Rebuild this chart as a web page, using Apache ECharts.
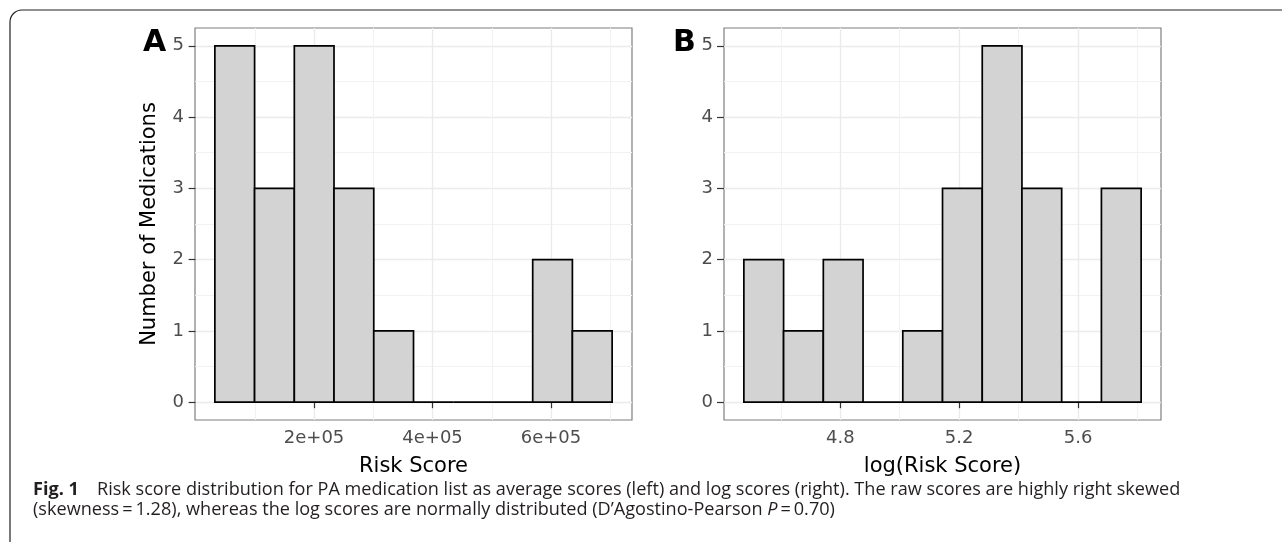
<!DOCTYPE html>
<html><head><meta charset="utf-8">
<script src="https://cdn.jsdelivr.net/npm/echarts@6/dist/echarts.min.js"></script>
<style>html,body{margin:0;padding:0;background:#fff}#c{width:1282px;height:542px}</style>
</head><body><div id="c"></div>
<script>
// ---- data ----
const binEdgesA = [32550, 99600, 166700, 233700, 300800, 367900, 434900, 502000, 569100, 636100, 703200];
const countsA = [5, 3, 5, 3, 1, 0, 0, 0, 2, 1];
const binEdgesB = [4.4755, 4.6092, 4.7429, 4.8766, 5.0103, 5.1440, 5.2777, 5.4113, 5.5450, 5.6787, 5.8124];
const countsB = [2, 1, 2, 0, 1, 3, 5, 3, 0, 3];
const xTicksA = [200000, 400000, 600000];
const xTickLabelsA = ['2e+05', '4e+05', '6e+05'];
const xMinorA = [100000, 300000, 500000, 700000];
const xTicksB = [4.8, 5.2, 5.6];
const xTickLabelsB = ['4.8', '5.2', '5.6'];
const xMinorB = [4.6, 5.0, 5.4, 5.8];
const yTicks = [0, 1, 2, 3, 4, 5];
const yMinor = [0.5, 1.5, 2.5, 3.5, 4.5];
const xTitleA = 'Risk Score';
const xTitleB = 'log(Risk Score)';
const yTitle = 'Number of Medications';
const panelLabels = ['A', 'B'];
const captionBold = 'Fig. 1';
const captionLine1 = 'Risk score distribution for PA medication list as average scores (left) and log scores (right). The raw scores are highly right skewed';
const captionLine2a = '(skewness\u2009=\u20091.28), whereas the log scores are normally distributed (D\u2019Agostino-Pearson ';
const captionItalic = 'P';
const captionLine2b = '\u2009=\u20090.70)';

// ---- helpers ----
function binsData(edges, counts) {
  return counts.map((c, i) => [edges[i], edges[i + 1], c]);
}
function expand(edges) {
  const r = edges[edges.length - 1] - edges[0];
  return [edges[0] - 0.05 * r, edges[edges.length - 1] + 0.05 * r];
}
const yMax = Math.max(...countsA, ...countsB);
const yRange = [-0.05 * yMax, yMax * 1.05];
const FONT = '"DejaVu Sans", sans-serif';
const TICK_SIZE = 18, TITLE_SIZE = 21;

function histItem(params, api) {
  const p0 = api.coord([api.value(0), api.value(2)]);
  const p1 = api.coord([api.value(1), 0]);
  return {
    type: 'rect',
    shape: { x: p0[0], y: p0[1], width: p1[0] - p0[0], height: p1[1] - p0[1] },
    style: { fill: '#d3d3d3', stroke: '#000', lineWidth: 1.7 }
  };
}

function majorX(grid, range, ticks, labels, title) {
  return {
    type: 'value', gridIndex: grid, min: range[0], max: range[1], position: 'bottom',
    axisLine: { show: false },
    axisTick: { show: true, length: 6, customValues: ticks, lineStyle: { color: '#333', width: 1.2 } },
    axisLabel: { customValues: ticks, formatter: v => labels[ticks.indexOf(+v)] ?? '', fontSize: TICK_SIZE, color: '#4d4d4d', fontFamily: FONT, margin: 9 },
    splitLine: { show: true, lineStyle: { color: '#ebebeb', width: 1.4 } },
    name: title, nameLocation: 'middle', nameGap: 36,
    nameTextStyle: { fontSize: TITLE_SIZE, color: '#000', fontFamily: FONT }
  };
}
function minorX(grid, range, ticks) {
  return {
    type: 'value', gridIndex: grid, min: range[0], max: range[1], position: 'bottom',
    axisLine: { show: false },
    axisTick: { show: false, customValues: ticks },
    axisLabel: { show: false, customValues: ticks },
    splitLine: { show: true, lineStyle: { color: '#f2f2f2', width: 1 } }
  };
}
function majorY(grid, title) {
  const o = {
    type: 'value', gridIndex: grid, min: yRange[0], max: yRange[1], position: 'left',
    axisLine: { show: false },
    axisTick: { show: true, length: 7, customValues: yTicks, lineStyle: { color: '#333', width: 1.2 } },
    axisLabel: { customValues: yTicks, fontSize: TICK_SIZE, color: '#4d4d4d', fontFamily: FONT, margin: 11 },
    splitLine: { show: true, lineStyle: { color: '#ebebeb', width: 1.4 } }
  };
  if (title) {
    o.name = title; o.nameLocation = 'middle'; o.nameGap = 35;
    o.nameTextStyle = { fontSize: TITLE_SIZE, color: '#000', fontFamily: FONT };
  }
  return o;
}
function minorY(grid) {
  return {
    type: 'value', gridIndex: grid, min: yRange[0], max: yRange[1], position: 'left',
    axisLine: { show: false },
    axisTick: { show: false, customValues: yMinor },
    axisLabel: { show: false, customValues: yMinor },
    splitLine: { show: true, lineStyle: { color: '#f2f2f2', width: 1 } }
  };
}

// caption font fitting
const ctx = document.createElement('canvas').getContext('2d');
const CAP_FONT = '"Open Sans"';
function tw(t, size, weight, style) { ctx.font = (style || 'normal') + ' ' + (weight || 'normal') + ' ' + size + 'px ' + CAP_FONT; return ctx.measureText(t).width; }
const targetW = 1148;
const w15 = tw(captionBold, 15, 'bold') + tw('\u2003' + captionLine1, 15);
const capSize = Math.round(15 * targetW / w15 * 10) / 10;

const rA = expand(binEdgesA), rB = expand(binEdgesB);
const chart = echarts.init(document.getElementById('c'), null, { renderer: 'canvas' });
chart.setOption({
  animation: false,
  backgroundColor: '#fff',
  grid: [
    { left: 195, top: 28, width: 437, height: 392, show: true, borderColor: '#7f7f7f', borderWidth: 1.2, backgroundColor: 'transparent' },
    { left: 724, top: 28, width: 437, height: 392, show: true, borderColor: '#7f7f7f', borderWidth: 1.2, backgroundColor: 'transparent' }
  ],
  xAxis: [
    majorX(0, rA, xTicksA, xTickLabelsA, xTitleA),
    minorX(0, rA, xMinorA),
    majorX(1, rB, xTicksB, xTickLabelsB, xTitleB),
    minorX(1, rB, xMinorB)
  ],
  yAxis: [majorY(0, yTitle), minorY(0), majorY(1, null), minorY(1)],
  series: [
    { type: 'custom', xAxisIndex: 0, yAxisIndex: 0, renderItem: histItem, encode: { x: [0, 1], y: 2 }, data: binsData(binEdgesA, countsA), z: 5 },
    { type: 'custom', xAxisIndex: 2, yAxisIndex: 2, renderItem: histItem, encode: { x: [0, 1], y: 2 }, data: binsData(binEdgesB, countsB), z: 5 }
  ],
  graphic: [
    { type: 'rect', shape: { x: 10, y: 10, width: 1300, height: 580, r: 12 }, style: { fill: 'none', stroke: '#222', lineWidth: 1.2 }, silent: true },
    { type: 'text', left: 143, top: 28, style: { text: panelLabels[0], font: 'bold 30px ' + FONT, fill: '#000' } },
    { type: 'text', left: 673, top: 28, style: { text: panelLabels[1], font: 'bold 30px ' + FONT, fill: '#000' } },
    { type: 'text', x: 33, y: 490, style: {
        text: '{b|' + captionBold + '}\u2003' + captionLine1,
        font: capSize + 'px ' + CAP_FONT, fill: '#231f20', verticalAlign: 'middle',
        rich: { b: { fontWeight: 'bold', fontSize: capSize, fontFamily: CAP_FONT, fill: '#231f20' } }
    } },
    { type: 'text', x: 33, y: 510, style: {
        text: captionLine2a + '{i|' + captionItalic + '}' + captionLine2b,
        font: capSize + 'px ' + CAP_FONT, fill: '#231f20', verticalAlign: 'middle',
        rich: { i: { fontStyle: 'italic', fontSize: capSize, fontFamily: CAP_FONT, fill: '#231f20' } }
    } }
  ]
});
</script></body></html>
